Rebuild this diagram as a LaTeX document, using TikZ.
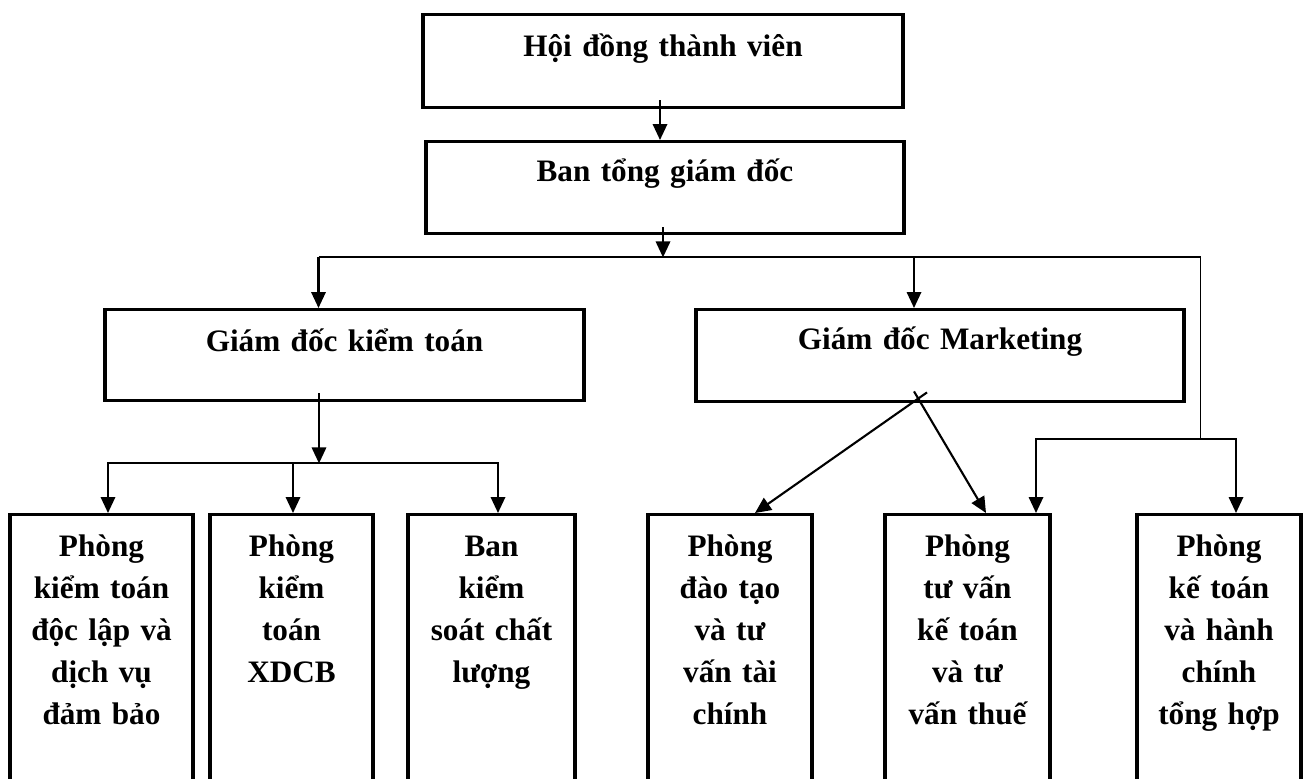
\documentclass[tikz,border=0pt]{standalone}
\usepackage{fontspec}
\setmainfont{Liberation Serif}
\usetikzlibrary{arrows.meta,calc}
\begin{document}
\begin{tikzpicture}[x=0.025cm,y=-0.025cm,
    unit/.style={draw,line width=2.4pt,inner sep=0pt,anchor=north,align=center,
      font=\bfseries\fontsize{22.2pt}{29.9pt}\selectfont},
    dept/.style={unit,text width=#1*0.025cm,text height=1.05cm,text depth=6.5cm},
    link/.style={line width=1.5pt,-{Triangle[length=0.4cm,width=0.36cm]}},
    wire/.style={line width=1.5pt}]
                            \useasboundingbox (0,0) rectangle (1308,778);
                            \clip (0,0) rectangle (1308,778);

                            % Management boxes
                            \node[unit,text width=12cm,text height=1.05cm,text depth=1.275cm] (hdtv) at (663,13) {Hội đồng thành viên};
                            \node[unit,text width=11.95cm,text height=1cm,text depth=1.3cm] (btgd) at (665,140) {Ban tổng giám đốc};
                            \node[unit,text width=11.975cm,text height=1.05cm,text depth=1.225cm] (gdkt) at (344.5,308) {Giám đốc kiểm toán};
                            \node[unit,text width=12.2cm,text height=1cm,text depth=1.3cm] (gdmk) at (940,308) {Giám đốc Marketing};

                            % Departments
                            \node[dept=183] (p1) at (101.5,513) {Phòng\\kiểm toán\\độc lập và\\dịch vụ\\đảm bảo};
                            \node[dept=163] (p2) at (291.5,513) {Phòng\\kiểm\\toán\\XDCB};
                            \node[dept=167] (p3) at (491.5,513) {Ban\\kiểm\\soát chất\\lượng};
                            \node[dept=164] (p4) at (730,513) {Phòng\\đào tạo\\và tư\\vấn tài\\chính};
                            \node[dept=165] (p5) at (967.5,513) {Phòng\\tư vấn\\kế toán\\và tư\\vấn thuế};
                            \node[dept=164] (p6) at (1219,513) {Phòng\\kế toán\\và hành\\chính\\tổng hợp};

                            % Top links
                            \coordinate (a) at ($(hdtv.south)+(-3,-9)$);
                            \draw[link] (a) -- (a |- btgd.north);
                            \coordinate (bus) at ($(btgd.south)+(-2,22)$);
                            \draw[link] ($(btgd.south)+(-2,-8)$) -- (bus);

                            % Main bus and riser
                            \coordinate (riser) at ($(gdmk.east |- bus)+(15,0)$);
                            \coordinate (tap) at ($(riser)+(0,182)$);
                            \coordinate (m0) at ($(gdkt.north)+(-26,0)$);
                            \coordinate (m1) at ($(gdmk.north)+(-26,0)$);
                            \draw[wire] (m0 |- bus) -- (riser);
                            \draw[link] (m0 |- bus) -- (m0);
                            \draw[link] (m1 |- bus) -- (m1);
                            \draw[line width=0.7pt] (riser) -- (tap);
                            \draw[link] (tap) -| ($(p5.north)+(68.5,0)$);
                            \draw[link] (tap) -| ($(p6.north)+(17,0)$);

                            % Audit branch
                            \coordinate (kbus) at ($(gdkt.south)+(-25.5,61)$);
                            \draw[link] ($(gdkt.south)+(-25.5,-9)$) -- (kbus);
                            \draw[link] (kbus) -| ($(p1.north)+(6.5,0)$);
                            \draw[link] (kbus) -| ($(p3.north)+(6.5,0)$);
                            \coordinate (k2) at ($(p2.north)+(1.5,0)$);
                            \draw[link] (k2 |- kbus) -- (k2);

                            % Marketing branch
                            \draw[link] ($(gdmk.south)+(-13,-11)$) -- ($(p4.north)+(25,0)$);
                            \draw[link] ($(gdmk.south)+(-26,-12)$) -- ($(p5.north)+(18.5,0)$);

\end{tikzpicture}
\end{document}
